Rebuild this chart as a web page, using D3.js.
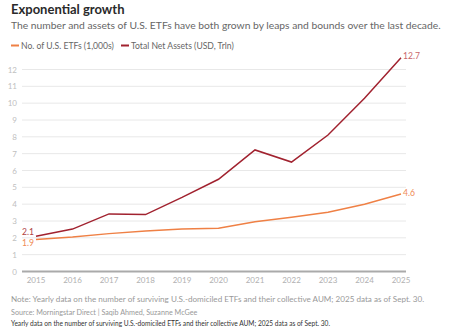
<!DOCTYPE html>
<html><head><meta charset="utf-8">
<script src="https://cdn.jsdelivr.net/npm/d3@7"></script>
<style>body{margin:0;background:#fff}svg{display:block;font-family:Lato,sans-serif}</style>
</head><body><svg id="c" width="460" height="336"></svg>
<script>
const years = [2015,2016,2017,2018,2019,2020,2021,2022,2023,2024,2025];
const etfCount = [1.9,2.05,2.25,2.4,2.52,2.57,2.96,3.22,3.52,4.0,4.6];
const netAssets = [2.1,2.52,3.42,3.38,4.4,5.48,7.22,6.5,8.11,10.29,12.7];
const yTicks = [0,1,2,3,4,5,6,7,8,9,10,11,12];
const seriesNames = ["No. of U.S. ETFs (1,000s)","Total Net Assets (USD, Trln)"];
const colors = {etf:"#ef8045", assets:"#a1222f"};

const svg = d3.select("#c");
const x = d3.scaleLinear().domain([2015,2025]).range([36,401]);
const y = d3.scaleLinear().domain([0,12]).range([271.5,69.5]);

svg.append("text").attr("x",11).attr("y",14).attr("font-size",13).attr("font-weight",700).attr("fill","#2a2a2a").text("Exponential growth");
svg.append("text").attr("x",11).attr("y",29).attr("font-size",10.3).attr("fill","#666").text("The number and assets of U.S. ETFs have both grown by leaps and bounds over the last decade.");

// legend
const lg = [{n:seriesNames[0],c:colors.etf,x:11},{n:seriesNames[1],c:colors.assets,x:121}];
lg.forEach(d=>{
  svg.append("line").attr("x1",d.x).attr("x2",d.x+8).attr("y1",45.5).attr("y2",45.5).attr("stroke",d.c).attr("stroke-width",2);
  svg.append("text").attr("x",d.x+10).attr("y",48.5).attr("font-size",8.6).attr("fill","#666").text(d.n);
});

// grid
const g = svg.append("g");
yTicks.forEach(t=>{
  g.append("line").attr("x1",22).attr("x2",406).attr("y1",y(t)).attr("y2",y(t))
   .attr("stroke", t===0?"#aaa":"#e8e8e8").attr("stroke-width", t===0?2:1);
  g.append("text").attr("x",17).attr("y",y(t)+3).attr("text-anchor","end").attr("font-size",8).attr("fill","#c0c0c0").text(t);
});
years.forEach(yr=>{
  g.append("text").attr("x",x(yr)).attr("y",283).attr("text-anchor","middle").attr("font-size",8).attr("fill","#b0b0b0").text(yr);
});

const line = d3.line().x((d,i)=>x(years[i])).y(d=>y(d));
svg.append("path").datum(etfCount).attr("d",line).attr("fill","none").attr("stroke",colors.etf).attr("stroke-width",1.5);
svg.append("path").datum(netAssets).attr("d",line).attr("fill","none").attr("stroke",colors.assets).attr("stroke-width",1.5);

// end labels
const n = years.length-1;
svg.append("text").attr("x",x(years[0])-2).attr("y",y(netAssets[0])-1).attr("text-anchor","end").attr("font-size",8.6).attr("fill","#b0423f").text(netAssets[0]);
svg.append("text").attr("x",x(years[0])-2).attr("y",y(etfCount[0])+6).attr("text-anchor","end").attr("font-size",8.6).attr("fill","#ef8a55").text(etfCount[0]);
svg.append("text").attr("x",x(years[n])+2).attr("y",y(netAssets[n])+1).attr("font-size",8.6).attr("fill","#c8656a").text(netAssets[n]);
svg.append("text").attr("x",x(years[n])+2).attr("y",y(etfCount[n])+2).attr("font-size",8.6).attr("fill","#ef8a55").text(etfCount[n]);

// footer
svg.append("text").attr("x",11).attr("y",302).attr("font-size",8.1).attr("fill","#999").text("Note: Yearly data on the number of surviving U.S.-domiciled ETFs and their collective AUM; 2025 data as of Sept. 30.");
svg.append("text").attr("x",11).attr("y",315).attr("font-size",7.2).attr("fill","#999").text("Source: Morningstar Direct  | Saqib Ahmed, Suzanne McGee");
svg.append("text").attr("x",11).attr("y",326).attr("font-size",6.6).attr("fill","#333").text("Yearly data on the number of surviving U.S.-domiciled ETFs and their collective AUM; 2025 data as of Sept. 30.");
</script></body></html>
